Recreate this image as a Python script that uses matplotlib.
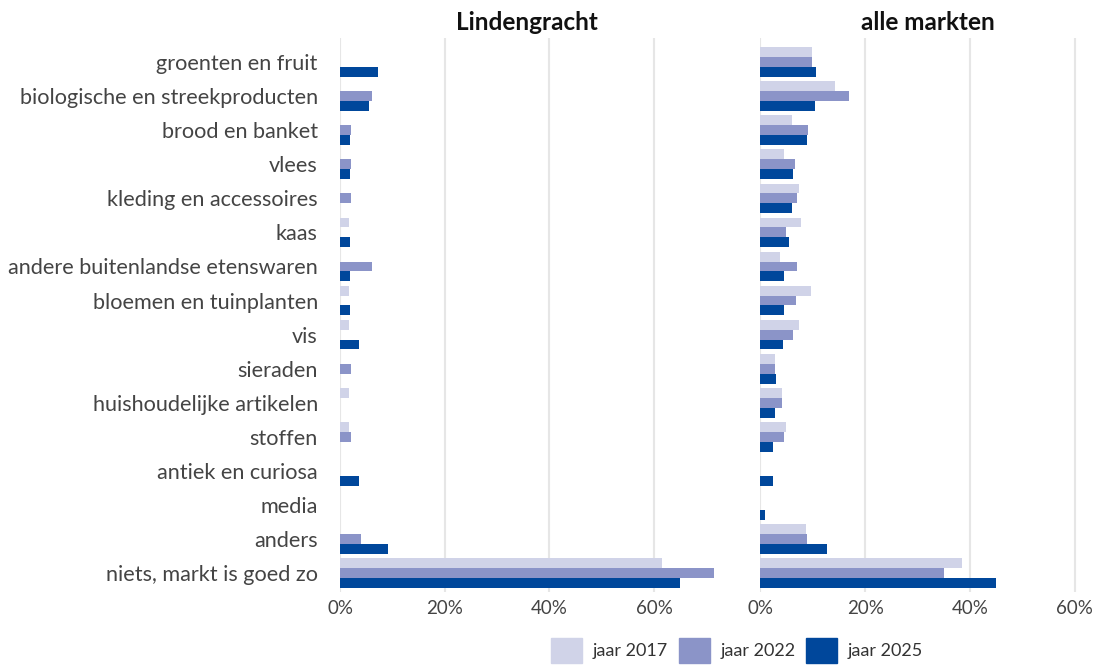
"""Wensen voor het aanbod op de markt: Lindengracht vs alle markten."""

import matplotlib.pyplot as plt
from matplotlib.patches import Patch
import numpy as np

# categories, top to bottom
categories = [
    'groenten en fruit', 'biologische en streekproducten', 'brood en banket',
    'vlees', 'kleding en accessoires', 'kaas',
    'andere buitenlandse etenswaren', 'bloemen en tuinplanten', 'vis',
    'sieraden', 'huishoudelijke artikelen', 'stoffen', 'antiek en curiosa',
    'media', 'anders', 'niets, markt is goed zo',
]

years = ['jaar 2017', 'jaar 2022', 'jaar 2025']
colors = ['#d0d3e8', '#8b94c8', '#00479b']

# Lindengracht (%)
linden_2017 = [0, 0, 0, 0, 0, 1.7, 0, 1.7, 1.7, 0, 1.7, 1.7, 0, 0, 0, 61.5]
linden_2022 = [0, 6.1, 2.1, 2.1, 2.1, 0, 6.1, 0, 0, 2.1, 0, 2.1, 0, 0, 4.0, 71.4]
linden_2025 = [7.3, 5.5, 1.9, 1.9, 0, 1.9, 1.9, 1.9, 3.6, 0, 0, 0, 3.6, 0, 9.2, 64.9]

# alle markten (%)
alle_2017 = [9.8, 14.2, 6.0, 4.6, 7.3, 7.7, 3.8, 9.6, 7.3, 2.9, 4.2, 5.0, 0, 0, 8.8, 38.5]
alle_2022 = [9.8, 16.9, 9.2, 6.7, 7.1, 5.0, 7.1, 6.9, 6.2, 2.9, 4.2, 4.6, 0, 0, 9.0, 35.0]
alle_2025 = [10.6, 10.4, 9.0, 6.3, 6.0, 5.4, 4.6, 4.6, 4.4, 3.1, 2.9, 2.5, 2.5, 1.0, 12.7, 45.0]

plt.rcParams['font.family'] = ['Lato', 'DejaVu Sans']

fig = plt.figure(figsize=(10.97, 6.71), dpi=100)
ax1 = fig.add_axes([0.310, 0.118, 0.341, 0.825])
ax2 = fig.add_axes([0.693, 0.118, 0.306, 0.825])

y = np.arange(len(categories))
bar_h = 0.29


def draw_panel(ax, series, title, xmax):
    """Draw one panel of grouped horizontal bars."""
    for i, vals in enumerate(series):
        ax.barh(y + (i - 1) * bar_h, vals, height=bar_h, color=colors[i],
                zorder=3)
    ax.set_xlim(0, xmax)
    ax.set_ylim(len(categories) - 0.45, -0.7)
    ax.set_xticks([0, 20, 40, 60])
    ax.set_xticklabels(['0%', '20%', '40%', '60%'])
    ax.grid(axis='x', color='#e6e6e6', linewidth=1.5, zorder=0)
    for s in ax.spines.values():
        s.set_visible(False)
    ax.tick_params(axis='both', length=0, labelsize=13.5,
                   labelcolor='#444444')
    ax.tick_params(axis='x', pad=6)
    ax.set_title(title, fontsize=17.5, fontweight='bold', color='#111111',
                 pad=6)


draw_panel(ax1, [linden_2017, linden_2022, linden_2025], 'Lindengracht', 71.5)
draw_panel(ax2, [alle_2017, alle_2022, alle_2025], 'alle markten', 64.0)

ax1.set_yticks(y)
ax1.set_yticklabels(categories)
ax1.tick_params(axis='y', pad=16, labelsize=15.6)
ax2.set_yticks([])

# legend at the bottom
handles = [Patch(color=c, label=l) for c, l in zip(colors, years)]
fig.legend(handles=handles, loc='lower center', bbox_to_anchor=(0.672, -0.012),
           ncol=3, frameon=False, fontsize=13, handlelength=1.7,
           handleheight=1.7, handletextpad=0.6, columnspacing=0.6,
           labelcolor='#333333')

fig.savefig('out.png', dpi=100)
